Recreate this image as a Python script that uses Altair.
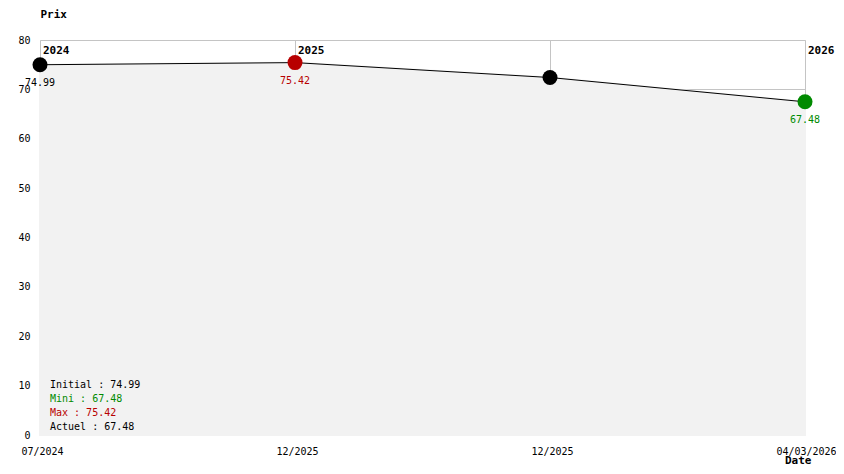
import json
import altair as alt
import pandas as pd

# ---- data ----
dates = ["07/2024", "12/2025", "12/2025", "04/03/2026"]
prices = [74.99, 75.42, 72.4, 67.48]
kinds = ["initial", "max", "mid", "min"]
years = ["2024", "2025", "2026"]
year_idx = [0, 1, 3]
summary_labels = ["Initial", "Mini", "Max", "Actuel"]
summary_values = [74.99, 67.48, 75.42, 67.48]

df = pd.DataFrame({"i": list(range(len(prices))), "date": dates, "prix": prices, "kind": kinds})
df["label"] = [f"{p:.2f}" for p in prices]
ydf = pd.DataFrame({"i": year_idx, "year": years})

MONO = "DejaVu Sans Mono"
RED = "#b80000"
GREEN = "#008a00"
W, H = 765, 395

label_expr = json.dumps(dates) + "[datum.value]"

xs = alt.Scale(domain=[0, len(prices) - 1], nice=False, zero=False)
ys = alt.Scale(domain=[0, 80], nice=False)

x_enc = alt.X("i:Q", scale=xs, axis=alt.Axis(
    values=list(range(len(dates))), labelExpr=label_expr, grid=True, gridColor="#c4c4c4",
    domain=False, ticks=False, labelPadding=11, labelFont=MONO, labelFontSize=10,
    labelColor="#000", labelAngle=0, labelFlush=False, labelAlign="center",
    labelOffset={"condition": {"test": "datum.value == 3", "value": 1}, "value": 2},
    title="Date", titleFont=MONO, titleFontSize=11, titleFontWeight="bold",
    titleAnchor="end", titleAlign="right", titleX=771, titleY=28,
    titleBaseline="alphabetic", titleColor="#000"))
y_enc = alt.Y("prix:Q", scale=ys, axis=alt.Axis(
    values=list(range(0, 81, 10)), grid=True, gridColor="#c4c4c4", domain=False,
    ticks=False, labelPadding=10, labelFont=MONO, labelFontSize=10, labelColor="#000",
    title="Prix", titleFont=MONO, titleFontSize=11, titleFontWeight="bold",
    titleAngle=0, titleX=0, titleY=-26, titleAlign="left", titleBaseline="middle",
    titleColor="#000"))

base = alt.Chart(df)

area = base.mark_area(color="#f2f2f2", opacity=1, stroke="#f2f2f2", strokeWidth=2).encode(x=x_enc, y=y_enc)
line = base.mark_line(color="#000", strokeWidth=1).encode(x="i:Q", y="prix:Q")

color_scale = alt.Scale(domain=["initial", "max", "mid", "min"], range=["#000000", RED, "#000000", GREEN])
size_scale = alt.Scale(domain=["initial", "max", "mid", "min"], range=[225, 225, 50, 225])

pts = base.mark_circle(opacity=1).encode(
    x="i:Q", y="prix:Q",
    color=alt.Color("kind:N", scale=color_scale, legend=None),
    size=alt.Size("kind:N", scale=size_scale, legend=None))

vals = base.transform_filter("datum.kind != 'mid'").mark_text(
    font=MONO, fontSize=10, dy=18, align="center", baseline="middle").encode(
    x="i:Q", y="prix:Q", text="label:N",
    color=alt.Color("kind:N", scale=color_scale, legend=None))

yr = alt.Chart(ydf).mark_text(font=MONO, fontSize=11, fontWeight="bold", align="left",
                              baseline="middle", dx=3, color="#000").encode(
    x=alt.X("i:Q", scale=xs), y=alt.value(11), text="year:N")

summary_colors = ["#000000", GREEN, RED, "#000000"]
summ_layers = []
for k, (lab, v) in enumerate(zip(summary_labels, summary_values)):
    sdf = pd.DataFrame({"t": [f"{lab} : {v:.2f}"]})
    summ_layers.append(alt.Chart(sdf).mark_text(
        font=MONO, fontSize=10, align="left", baseline="middle", color=summary_colors[k]).encode(
        x=alt.value(10), y=alt.value(345 + 14 * k), text="t:N"))

chart = alt.layer(area, line, pts, vals, yr, *summ_layers).properties(
    width=W, height=H,
    autosize=alt.AutoSizeParams(type="none"),
    padding={"left": 32, "top": 32, "right": 31, "bottom": 31},
).configure_view(stroke=None).configure(background="white")

chart.save("out.html", embed_options={"renderer": "svg", "actions": False})
